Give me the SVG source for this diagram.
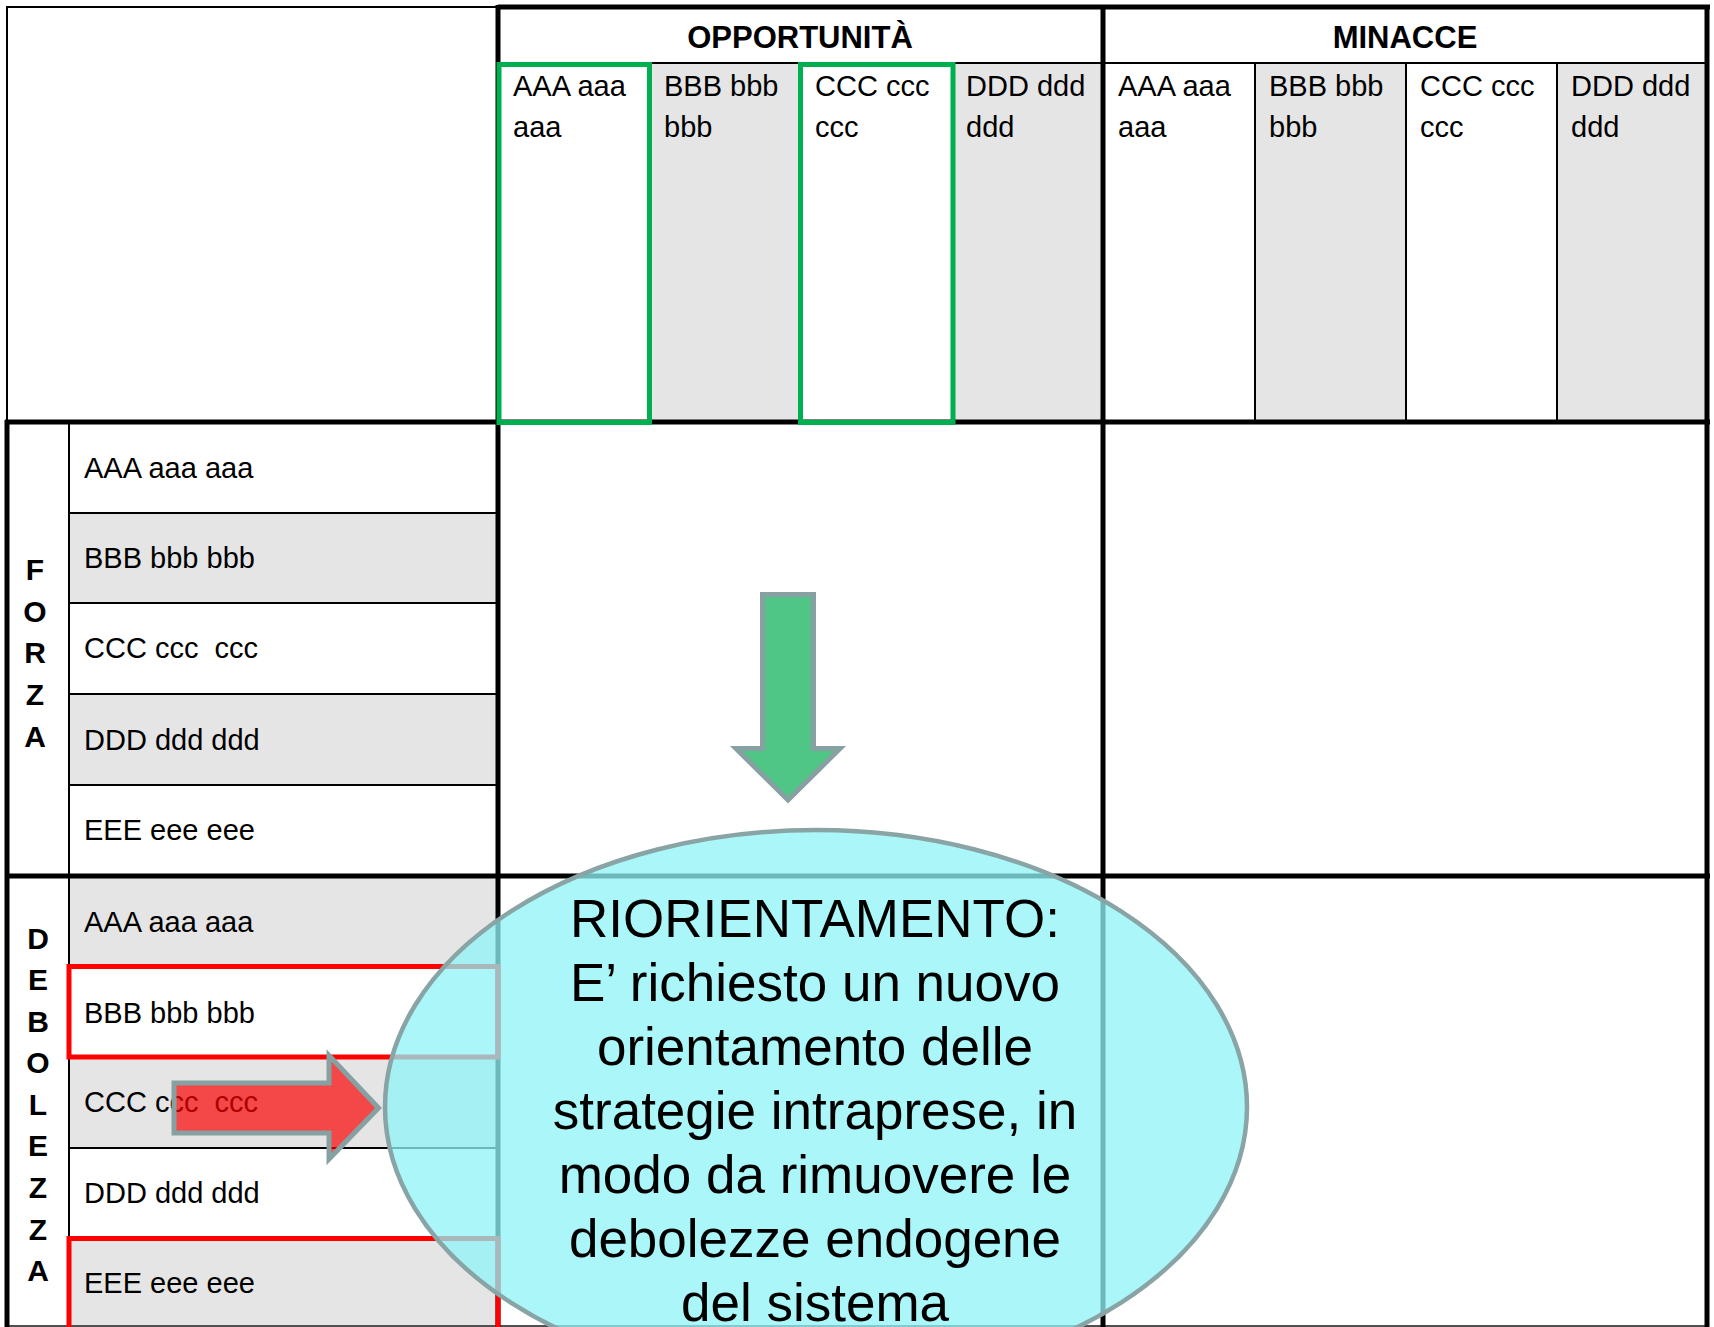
<svg xmlns="http://www.w3.org/2000/svg" width="1714" height="1327" viewBox="0 0 1714 1327">
<style>
.g{fill:#e5e5e5;stroke:none}
.w{fill:#ffffff;stroke:none}
.thin{stroke:#000;stroke-width:2;fill:none}
.thick{stroke:#000;stroke-width:5;fill:none}
.t{font-family:"Liberation Sans",Arial,sans-serif;font-size:29px;fill:#000}
.hb{font-family:"Liberation Sans",Arial,sans-serif;font-size:31px;font-weight:bold;fill:#000;text-anchor:middle}
.lb{font-family:"Liberation Sans",Arial,sans-serif;font-size:30px;font-weight:bold;fill:#000;text-anchor:middle}
.el{font-family:"Liberation Sans",Arial,sans-serif;font-size:53px;fill:#000;text-anchor:middle}
.grn{fill:none;stroke:#00b050;stroke-width:5}
.red{fill:none;stroke:#ff0000;stroke-width:5}
</style>
<rect x="0" y="0" width="1714" height="1327" fill="#ffffff"/>

<g id="corner">
  <rect class="w" x="6" y="7" width="492" height="415"/>
  <line class="thin" x1="6" y1="7" x2="498" y2="7"/>
  <line class="thin" x1="7" y1="6" x2="7" y2="422"/>
</g>

<g id="header-opportunita">
  <rect class="w" x="498" y="7" width="605" height="56"/>
  <text class="hb" x="800" y="48">OPPORTUNITÀ</text>
</g>
<g id="header-minacce">
  <rect class="w" x="1103" y="7" width="604" height="56"/>
  <text class="hb" x="1405" y="48">MINACCE</text>
</g>

<g id="opp-aaa"><rect class="w" x="498" y="63" width="152" height="359"/><text class="t" x="513" y="96">AAA aaa</text><text class="t" x="513" y="137">aaa</text></g>
<g id="opp-bbb"><rect class="g" x="650" y="63" width="151" height="359"/><text class="t" x="664" y="96">BBB bbb</text><text class="t" x="664" y="137">bbb</text></g>
<g id="opp-ccc"><rect class="w" x="801" y="63" width="151" height="359"/><text class="t" x="815" y="96">CCC ccc</text><text class="t" x="815" y="137">ccc</text></g>
<g id="opp-ddd"><rect class="g" x="952" y="63" width="151" height="359"/><text class="t" x="966" y="96">DDD ddd</text><text class="t" x="966" y="137">ddd</text></g>
<g id="min-aaa"><rect class="w" x="1103" y="63" width="152" height="359"/><text class="t" x="1118" y="96">AAA aaa</text><text class="t" x="1118" y="137">aaa</text></g>
<g id="min-bbb"><rect class="g" x="1255" y="63" width="151" height="359"/><text class="t" x="1269" y="96">BBB bbb</text><text class="t" x="1269" y="137">bbb</text></g>
<g id="min-ccc"><rect class="w" x="1406" y="63" width="151" height="359"/><text class="t" x="1420" y="96">CCC ccc</text><text class="t" x="1420" y="137">ccc</text></g>
<g id="min-ddd"><rect class="g" x="1557" y="63" width="150" height="359"/><text class="t" x="1571" y="96">DDD ddd</text><text class="t" x="1571" y="137">ddd</text></g>

<g id="forza-label">
  <rect class="w" x="7" y="422" width="62" height="454"/>
  <text class="lb" x="35" y="580">F</text>
  <text class="lb" x="35" y="622">O</text>
  <text class="lb" x="35" y="663">R</text>
  <text class="lb" x="35" y="705">Z</text>
  <text class="lb" x="35" y="747">A</text>
</g>
<g id="forza-aaa"><rect class="w" x="69" y="422" width="429" height="91"/><text class="t" x="84" y="478">AAA aaa aaa</text></g>
<g id="forza-bbb"><rect class="g" x="69" y="513" width="429" height="90"/><text class="t" x="84" y="568">BBB bbb bbb</text></g>
<g id="forza-ccc"><rect class="w" x="69" y="603" width="429" height="91"/><text class="t" x="84" y="658" xml:space="preserve">CCC ccc  ccc</text></g>
<g id="forza-ddd"><rect class="g" x="69" y="694" width="429" height="91"/><text class="t" x="84" y="750">DDD ddd ddd</text></g>
<g id="forza-eee"><rect class="w" x="69" y="785" width="429" height="91"/><text class="t" x="84" y="840">EEE eee eee</text></g>

<g id="debolezza-label">
  <rect class="w" x="7" y="876" width="62" height="451"/>
  <text class="lb" x="38" y="949">D</text>
  <text class="lb" x="38" y="990">E</text>
  <text class="lb" x="38" y="1032">B</text>
  <text class="lb" x="38" y="1073">O</text>
  <text class="lb" x="38" y="1115">L</text>
  <text class="lb" x="38" y="1156">E</text>
  <text class="lb" x="38" y="1198">Z</text>
  <text class="lb" x="38" y="1240">Z</text>
  <text class="lb" x="38" y="1281">A</text>
</g>
<g id="deb-aaa"><rect class="g" x="69" y="876" width="429" height="90"/><text class="t" x="84" y="932">AAA aaa aaa</text></g>
<g id="deb-bbb"><rect class="w" x="69" y="966" width="429" height="91"/><text class="t" x="84" y="1023">BBB bbb bbb</text></g>
<g id="deb-ccc"><rect class="g" x="69" y="1057" width="429" height="91"/><text class="t" x="84" y="1112" xml:space="preserve">CCC ccc  ccc</text></g>
<g id="deb-ddd"><rect class="w" x="69" y="1148" width="429" height="90"/><text class="t" x="84" y="1203">DDD ddd ddd</text></g>
<g id="deb-eee"><rect class="g" x="69" y="1238" width="429" height="89"/><text class="t" x="84" y="1293">EEE eee eee</text></g>

<g id="grid">
  <line class="thin" x1="498" y1="63" x2="1707" y2="63"/>
  <line class="thin" x1="650" y1="63" x2="650" y2="422"/>
  <line class="thin" x1="801" y1="63" x2="801" y2="422"/>
  <line class="thin" x1="952" y1="63" x2="952" y2="422"/>
  <line class="thin" x1="1255" y1="63" x2="1255" y2="422"/>
  <line class="thin" x1="1406" y1="63" x2="1406" y2="422"/>
  <line class="thin" x1="1557" y1="63" x2="1557" y2="422"/>
  <line class="thin" x1="69" y1="422" x2="69" y2="1327"/>
  <line class="thin" x1="69" y1="513" x2="498" y2="513"/>
  <line class="thin" x1="69" y1="603" x2="498" y2="603"/>
  <line class="thin" x1="69" y1="694" x2="498" y2="694"/>
  <line class="thin" x1="69" y1="785" x2="498" y2="785"/>
  <line class="thin" x1="69" y1="966" x2="498" y2="966"/>
  <line class="thin" x1="69" y1="1057" x2="498" y2="1057"/>
  <line class="thin" x1="69" y1="1148" x2="498" y2="1148"/>
  <line class="thin" x1="69" y1="1238" x2="498" y2="1238"/>
  <line x1="6" y1="1326" x2="1707" y2="1326" stroke="#505050" stroke-width="2"/>
  <line class="thick" x1="498" y1="7" x2="1710" y2="7"/>
  <line class="thick" x1="498" y1="5" x2="498" y2="1327"/>
  <line class="thick" x1="1103" y1="5" x2="1103" y2="1327"/>
  <line class="thick" x1="1707" y1="5" x2="1707" y2="1327"/>
  <line class="thick" x1="5" y1="422" x2="1710" y2="422"/>
  <line class="thick" x1="5" y1="876" x2="1710" y2="876"/>
  <line class="thick" x1="7" y1="420" x2="7" y2="1327"/>
</g>

<g id="highlights">
  <rect class="grn" x="499" y="64.5" width="150.5" height="358"/>
  <rect class="grn" x="800.5" y="64.5" width="152.5" height="358"/>
  <rect class="red" x="69" y="966.5" width="429" height="90.5"/>
  <rect class="red" x="69" y="1238.5" width="429" height="110"/>
</g>

<g id="connectors">
  <path d="M762.5,594.5 H813.5 V748.5 H840 L788,800 L736,748.5 H762.5 Z" fill="#4fc685" stroke="#87a1a2" stroke-width="5"/>
  <path d="M174,1083 H329 V1055.5 L378.5,1108 L329,1159 V1133 H174 Z" fill="#fa0000" fill-opacity="0.69" stroke="#87a1a2" stroke-width="5"/>
</g>

<g id="riorientamento">
  <ellipse cx="816" cy="1107" rx="431" ry="277" fill="#8ff3f7" fill-opacity="0.757" stroke="#89a4a5" stroke-width="4.5"/>
  <text class="el" x="815" y="937">RIORIENTAMENTO:</text>
  <text class="el" x="815" y="1001">E’ richiesto un nuovo</text>
  <text class="el" x="815" y="1065">orientamento delle</text>
  <text class="el" x="815" y="1129">strategie intraprese, in</text>
  <text class="el" x="815" y="1193">modo da rimuovere le</text>
  <text class="el" x="815" y="1257">debolezze endogene</text>
  <text class="el" x="815" y="1321">del sistema</text>
</g>
</svg>
